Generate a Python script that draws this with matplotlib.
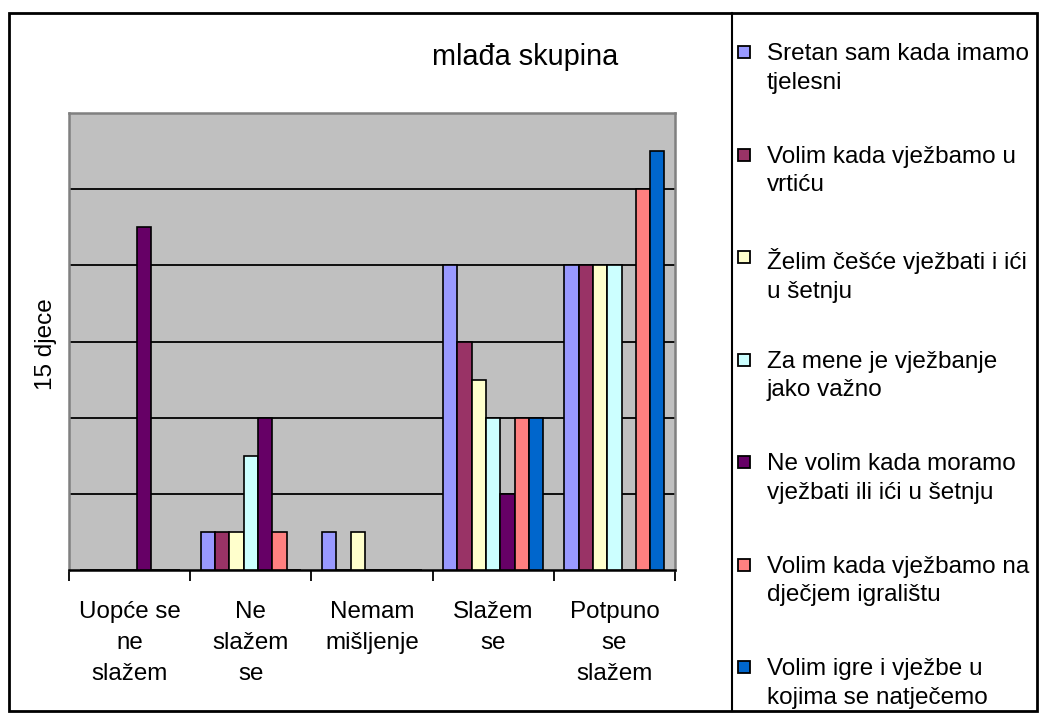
import matplotlib
matplotlib.use("Agg")
import matplotlib.pyplot as plt
import numpy as np
from matplotlib.patches import Rectangle
from matplotlib.lines import Line2D

plt.rcParams['font.family'] = ['Liberation Sans', 'DejaVu Sans']

categories = ["Uopće se\nne\nslažem", "Ne\nslažem\nse", "Nemam\nmišljenje", "Slažem\nse", "Potpuno\nse\nslažem"]
series_names = [
    "Sretan sam kada imamo\ntjelesni",
    "Volim kada vježbamo u\nvrtiću",
    "Želim češće vježbati i ići\nu šetnju",
    "Za mene je vježbanje\njako važno",
    "Ne volim kada moramo\nvježbati ili ići u šetnju",
    "Volim kada vježbamo na\ndječjem igralištu",
    "Volim igre i vježbe u\nkojima se natječemo",
]
sretan = [0, 1, 1, 8, 8]
volim_vrtic = [0, 1, 0, 6, 8]
zelim = [0, 1, 1, 5, 8]
vazno = [0, 3, 0, 4, 8]
ne_volim = [9, 4, 0, 2, 0]
igraliste = [0, 1, 0, 4, 10]
natjecanje = [0, 0, 0, 4, 11]
series_values = [sretan, volim_vrtic, zelim, vazno, ne_volim, igraliste, natjecanje]
colors = ["#9999FF", "#993366", "#FFFFCC", "#CCFFFF", "#660066", "#FF8080", "#0066CC"]

W, H = 1041, 713
fig = plt.figure(figsize=(W / 100, H / 100), dpi=100)

def fx(x):
    return x / W

def fy(y):
    return 1 - y / H

ax = fig.add_axes([fx(69), fy(570), (675 - 69) / W, (570 - 113) / H])
ax.set_facecolor("#C0C0C0")

n = len(series_values)
bw = (100 / 7) / 121.2
xc = np.arange(len(categories)) + 0.5
for i, (vals, c) in enumerate(zip(series_values, colors)):
    ax.bar(xc + (i - (n - 1) / 2) * bw, vals, width=bw, color=c,
           edgecolor="black", linewidth=1.2, zorder=3)

ax.set_xlim(0, len(categories))
ax.set_ylim(0, 12)
ax.set_yticks([2, 4, 6, 8, 10])
ax.yaxis.grid(True, color="black", linewidth=1.3, zorder=1)
ax.tick_params(axis='y', left=False, labelleft=False)
ax.set_xticks(np.arange(len(categories) + 1))
ax.set_xticklabels([])
ax.tick_params(axis='x', which='major', direction='out', length=8, width=1.3, color='black')
ax.set_xticks(xc, minor=True)
ax.set_xticklabels(categories, minor=True, fontsize=17.4, linespacing=1.53)
ax.tick_params(axis='x', which='minor', length=0, pad=22)
for s in ['left', 'top', 'right']:
    ax.spines[s].set_color("#808080")
    ax.spines[s].set_linewidth(1.8)
ax.spines['bottom'].set_color("black")
ax.spines['bottom'].set_linewidth(1.8)

# title and y label
fig.text(fx(525), fy(57), "mlađa skupina", fontsize=20.8, ha='center', va='center')
fig.text(fx(46), fy(344), "15 djece", fontsize=17.5, rotation=90, ha='center', va='center')

# outer frame and legend divider
fig.add_artist(Rectangle((fx(9), fy(711)), (1037 - 9) / W, (711 - 13) / H,
                         transform=fig.transFigure, fill=False, edgecolor='black', linewidth=2))
fig.add_artist(Line2D([fx(732), fx(732)], [fy(711), fy(13)], transform=fig.transFigure,
                      color='black', linewidth=1.5))

# legend
first_y = 52
pitch = (667 - 52) / 6
for i, (name, c) in enumerate(zip(series_names, colors)):
    yc = first_y + i * pitch
    fig.add_artist(Rectangle((fx(738), fy(yc + 6)), 12 / W, 12 / H, transform=fig.transFigure,
                             facecolor=c, edgecolor='black', linewidth=1.3))
    fig.text(fx(767), fy(yc - 9), name, fontsize=17.5, ha='left', va='top', linespacing=1.40)

fig.savefig("out.png", dpi=100)
